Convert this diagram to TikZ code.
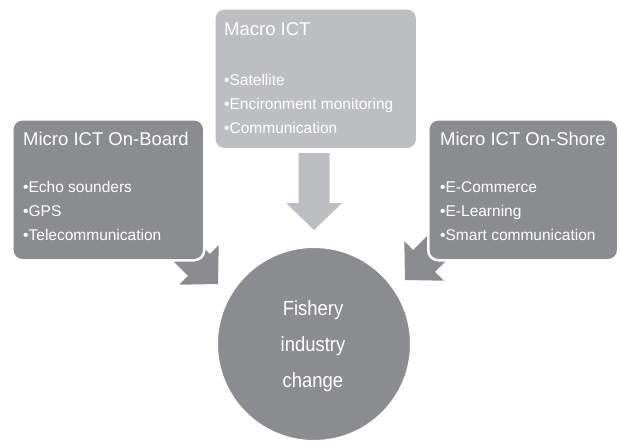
\documentclass[tikz,border=0pt]{standalone}
\usepackage{fontspec}
\setmainfont{Liberation Sans}
\newfontfamily\narrowfont[FakeStretch=0.9]{Liberation Sans}
\definecolor{darkg}{RGB}{139,140,144}
\definecolor{lightg}{RGB}{189,190,194}
\tikzset{
  darkbox/.style={fill=darkg, draw=white, line width=2.5pt, rounded corners=10pt, inner sep=0pt, anchor=north west},
  lightbox/.style={fill=lightg, draw=white, line width=2.5pt, rounded corners=10pt, inner sep=0pt, anchor=north west},
  titletext/.style={text=white, inner sep=0pt, anchor=base west, font=\fontsize{18.5}{20}\selectfont},
  itemtext/.style={text=white, inner sep=0pt, anchor=base west, font=\fontsize{15.5}{16}\selectfont},
  circtext/.style={text=white, inner sep=0pt, anchor=base, font=\narrowfont\fontsize{20.5}{24}\selectfont}
}
\begin{document}
\begin{tikzpicture}[x=1pt,y=-1pt]
\useasboundingbox (0,0) rectangle (620,442);
% arrow tips
\coordinate (tipL) at (218,284);
\coordinate (tipR) at (405,280);
\coordinate (tipD) at (314,230);
% block arrows
\begin{scope}[shift={(tipL)}, rotate=-45, darkg]
  \fill (0,0) -- (-27,28) -- (-27,15.5) -- (-77,15.5) -- (-77,-15.5) -- (-27,-15.5) -- (-27,-28) -- cycle;
\end{scope}
\begin{scope}[shift={(tipR)}, rotate=-135, darkg]
  \fill (0,0) -- (-27,28) -- (-27,15.5) -- (-77,15.5) -- (-77,-15.5) -- (-27,-15.5) -- (-27,-28) -- cycle;
\end{scope}
\begin{scope}[shift={(tipD)}, rotate=-90, lightg]
  \fill (0,0) -- (-27,28) -- (-27,15.5) -- (-77,15.5) -- (-77,-15.5) -- (-27,-15.5) -- (-27,-28) -- cycle;
\end{scope}
% boxes
\node[darkbox, minimum width=192pt, minimum height=141pt] (onboard) at (11,118) {};
\node[darkbox, minimum width=190pt, minimum height=141pt] (onshore) at (427,118) {};
\node[lightbox, minimum width=203pt, minimum height=141pt] (macro) at (213,7) {};
% circle
\node[circle, fill=darkg, draw=white, line width=1pt, minimum size=193pt, inner sep=0pt] (fish) at (314,344) {};
% texts: on-board
\node[titletext] (t1) at (23,145) {Micro ICT On-Board};
\node[itemtext] (t1a) at (23,192) {•Echo sounders};
\node[itemtext] (t1b) at (23,216) {•GPS};
\node[itemtext] (t1c) at (23,240) {•Telecommunication};
% macro
\node[titletext] (t2) at (224,35) {Macro ICT};
\node[itemtext] (t2a) at (224,85) {•Satellite};
\node[itemtext] (t2b) at (224,109) {•Encironment monitoring};
\node[itemtext] (t2c) at (224,133) {•Communication};
% on-shore
\node[titletext] (t3) at (440,145) {Micro ICT On-Shore};
\node[itemtext] (t3a) at (440,192) {•E-Commerce};
\node[itemtext] (t3b) at (440,216) {•E-Learning};
\node[itemtext] (t3c) at (440,240) {•Smart communication};
% circle text
\node[circtext] (c1) at (313,315) {Fishery};
\node[circtext] (c2) at (313,351) {industry};
\node[circtext] (c3) at (313,387) {change};
\end{tikzpicture}
\end{document}
